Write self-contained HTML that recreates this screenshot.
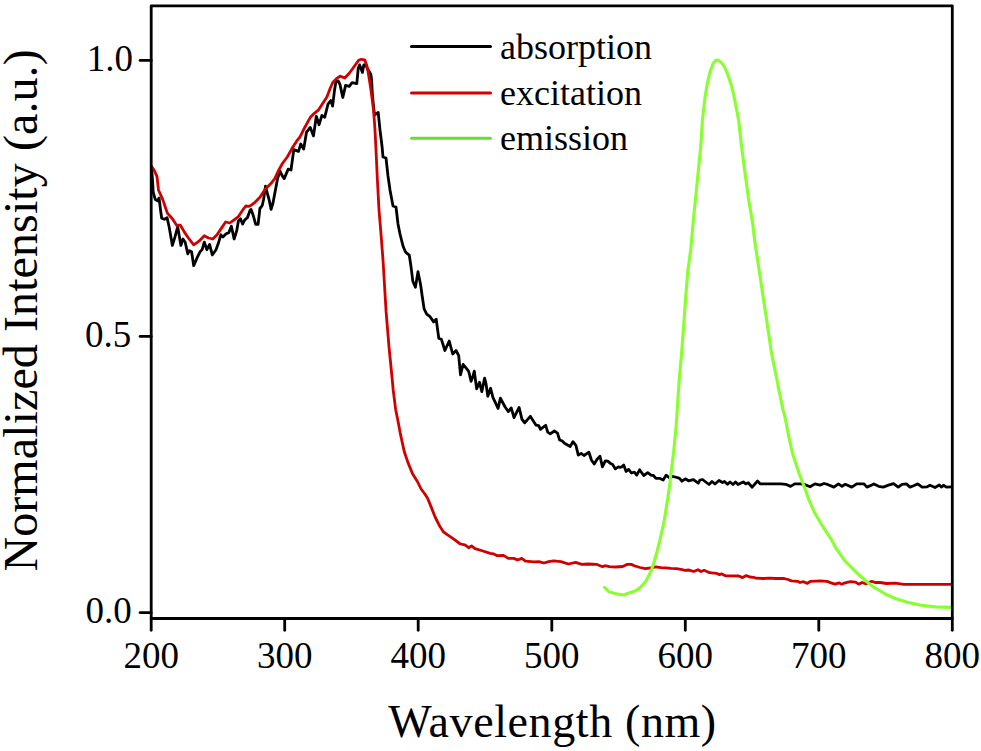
<!DOCTYPE html>
<html><head><meta charset="utf-8"><style>
html,body{margin:0;padding:0;background:#fff;}
svg{display:block;}
text{font-family:"Liberation Serif",serif;fill:#000;}
</style></head><body>
<svg width="981" height="751" viewBox="0 0 981 751">
<rect width="981" height="751" fill="#fff"/>
<g fill="none" stroke-linejoin="round" stroke-linecap="round">
<polyline points="151.5,168.0 152.5,180.0 153.2,192.1 155.3,199.6 157.5,200.7 159.1,198.0 160.7,211.3 161.7,218.2 164.4,219.3 167.1,217.7 169.2,227.3 172.4,245.4 175.0,236.9 177.7,226.8 180.9,245.4 183.0,239.0 185.2,242.2 187.8,253.9 189.4,250.7 191.6,251.8 193.7,265.7 196.9,258.2 200.0,251.8 202.1,249.7 204.3,242.2 206.9,249.7 209.6,244.4 212.3,255.0 216.0,249.7 218.7,242.2 220.8,234.8 222.9,236.9 226.1,233.7 228.8,232.6 231.4,226.2 234.1,239.0 236.8,230.5 238.4,220.9 240.5,218.8 242.6,224.1 244.8,219.8 247.4,217.7 250.1,210.2 251.1,209.4 253.4,216.0 255.7,224.3 258.1,224.3 259.9,208.5 262.2,205.7 263.6,199.2 265.5,186.1 267.4,193.6 269.2,200.1 271.1,209.4 273.0,202.9 275.8,188.0 277.6,178.6 280.0,171.2 282.3,175.9 284.2,178.6 288.2,169.1 291.0,170.0 293.8,149.6 298.5,151.4 300.8,144.0 303.7,149.0 306.5,132.2 310.3,127.5 313.5,135.9 316.3,116.3 319.1,124.7 321.9,115.4 324.7,117.3 328.0,104.2 330.8,100.5 332.6,106.1 334.5,90.3 335.9,81.9 338.2,80.9 340.0,84.5 342.8,97.5 345.6,85.4 349.3,86.3 352.1,82.6 356.8,83.6 358.2,68.6 359.6,64.9 361.0,68.6 362.4,72.4 363.8,64.9 365.6,64.9 368.0,69.6 370.8,74.2 371.7,80.8 372.2,92.0 373.1,102.2 374.5,115.2 376.8,113.4 378.2,112.4 380.0,130.0 382.0,146.0 383.0,157.0 386.0,158.0 388.0,176.0 390.0,190.0 393.0,206.0 396.0,207.0 398.0,224.0 400.0,234.0 403.0,246.0 405.0,251.0 406.0,252.6 409.3,255.2 411.1,267.3 412.8,281.2 415.4,287.3 418.0,271.7 420.6,284.7 422.3,296.8 424.1,308.9 426.7,314.1 430.1,316.7 433.6,321.9 436.2,319.3 438.8,338.4 441.4,339.3 444.9,350.5 449.2,341.0 452.7,354.0 456.1,350.5 458.7,355.7 460.5,374.8 463.1,364.4 467.4,369.6 468.7,371.5 471.1,381.3 472.9,376.2 474.3,371.1 475.3,379.0 476.7,388.8 479.5,382.2 481.8,391.6 484.6,378.1 486.0,383.6 487.8,396.2 490.6,388.3 493.0,397.6 498.1,408.4 500.4,398.1 505.1,407.0 508.4,411.6 511.2,407.9 514.0,417.7 519.1,407.4 521.9,419.1 524.7,422.8 530.3,416.3 535.9,425.1 538.7,425.6 540.5,429.3 542.9,427.3 545.7,425.3 547.7,432.2 550.2,433.9 554.3,431.0 557.5,433.1 559.6,440.0 562.0,440.8 564.5,443.2 570.2,446.5 573.0,441.6 575.9,445.3 578.3,455.1 581.2,453.4 584.0,455.5 588.9,452.2 591.4,460.0 594.2,464.0 597.1,459.2 600.0,456.3 602.4,466.9 605.3,460.8 607.7,461.2 610.1,463.2 612.6,464.5 615.4,468.9 618.3,466.9 620.0,467.3 621.6,466.9 623.7,464.9 626.1,471.4 628.6,469.4 631.4,473.0 634.3,472.2 636.7,475.1 639.6,469.8 643.7,475.5 647.7,472.6 651.0,475.1 653.4,475.5 655.9,478.4 660.0,478.4 663.2,480.0 666.1,475.1 668.9,477.5 672.2,476.3 677.1,477.5 679.5,478.4 682.0,481.2 685.3,478.8 688.5,480.8 693.4,479.6 698.3,483.2 700.0,480.0 702.5,479.5 709.0,484.5 712.0,481.5 715.0,484.0 719.0,480.5 722.5,482.5 724.5,481.5 727.5,484.3 730.0,482.0 733.0,484.5 735.5,482.0 738.0,484.5 740.0,483.5 743.3,481.9 745.7,483.9 748.2,482.7 752.2,487.2 757.5,481.0 760.4,483.9 764.5,483.9 772.6,483.9 780.8,483.9 785.7,484.3 790.6,486.4 794.6,483.9 800.4,483.9 805.3,484.7 810.1,486.8 815.0,483.9 820.0,485.1 824.1,483.5 828.2,484.7 833.9,487.1 838.4,483.9 842.0,486.3 845.3,484.3 851.8,487.1 856.7,483.9 864.0,483.9 866.9,487.1 869.8,485.9 873.8,483.9 878.7,486.3 883.2,487.1 888.5,485.1 893.6,483.6 898.2,487.1 902.1,484.3 906.4,483.9 910.0,487.1 913.6,485.7 917.8,483.9 922.1,487.1 927.1,486.8 930.0,485.3 935.0,487.5 939.3,485.0 941.4,487.1 943.5,485.3 946.4,487.1 951.4,486.8" stroke="#000" stroke-width="2.8"/>
<polyline points="151.4,166.2 154.2,170.2 157.0,176.6 158.5,190.0 162.8,199.6 166.0,209.2 167.6,213.4 172.4,218.8 176.6,225.2 180.4,225.2 184.1,231.6 188.4,238.0 193.7,244.9 199.0,241.2 204.3,235.8 208.5,238.0 212.8,239.0 217.0,234.8 221.3,228.4 225.6,222.0 229.8,223.0 234.1,219.8 238.4,216.6 242.6,210.2 245.8,206.0 248.5,206.3 250.6,205.7 254.3,202.9 259.9,197.3 265.5,188.9 271.1,183.3 274.8,178.6 278.6,170.3 282.3,163.7 285.0,160.0 287.3,157.0 291.9,148.6 296.6,141.2 300.0,136.8 304.7,127.5 310.3,117.3 314.0,113.6 318.6,109.8 323.3,102.4 327.0,96.8 329.8,89.3 332.6,82.8 336.2,78.9 340.0,76.1 344.7,78.0 349.3,73.3 354.0,66.8 358.6,60.3 361.4,59.3 364.7,59.8 366.6,64.9 368.0,71.4 369.4,79.8 370.8,89.1 372.2,99.4 373.6,110.6 375.0,130.0 376.0,150.0 377.4,180.0 379.0,210.0 381.0,234.0 383.0,260.0 386.1,311.7 389.0,346.8 391.9,376.0 393.2,390.0 395.6,409.2 397.8,420.0 400.6,434.9 404.3,451.7 408.1,462.9 412.7,474.1 417.4,481.5 421.1,489.0 424.5,493.5 427.6,498.3 431.4,507.6 435.1,517.0 439.8,526.3 443.5,531.9 447.2,534.7 452.8,538.4 456.5,541.2 460.3,544.0 464.9,544.9 468.7,547.7 471.5,545.9 475.0,548.7 483.0,551.0 490.2,553.4 493.7,553.9 497.3,555.7 503.5,555.4 508.3,558.4 513.9,558.4 517.5,560.0 521.8,558.4 525.5,561.2 534.0,561.8 538.9,561.6 543.8,563.0 548.7,561.6 553.6,560.8 561.0,561.6 568.3,564.0 575.6,562.4 581.7,564.3 587.9,564.0 596.4,564.3 602.5,566.7 605.0,565.7 609.3,566.7 615.8,567.0 622.7,566.5 627.0,564.4 631.3,564.4 635.0,566.0 640.0,567.5 645.4,568.6 650.0,568.0 655.8,566.9 661.0,567.6 666.1,567.8 671.0,568.3 676.5,568.6 681.0,569.4 685.0,570.3 688.4,570.0 690.0,570.3 693.7,571.5 698.0,569.7 701.0,571.5 704.1,570.3 709.6,572.7 716.3,573.3 719.4,574.6 721.8,573.9 725.5,575.8 732.8,575.8 738.9,576.0 742.6,577.6 746.3,575.6 749.9,577.0 753.6,577.3 756.1,578.2 763.4,578.5 769.5,578.2 775.6,578.5 784.2,578.5 787.9,579.5 791.5,580.9 797.6,581.3 800.0,582.5 803.3,581.7 807.3,583.4 810.6,581.3 820.4,580.9 826.9,581.3 831.0,582.9 835.1,584.2 839.2,582.9 841.6,584.2 844.9,582.9 850.6,581.7 855.5,582.1 858.7,584.2 862.0,582.5 866.1,583.8 871.8,581.3 875.0,582.5 880.0,582.5 886.6,583.5 895.2,583.2 903.9,584.4 912.6,584.4 921.2,584.4 929.9,584.4 938.5,584.4 951.5,584.4" stroke="#d00000" stroke-width="2.8"/>
<polyline points="604.5,587.3 608.8,591.6 614.0,593.3 618.4,594.2 623.5,595.0 629.6,592.8 635.0,591.1 640.2,587.6 646.2,580.7 651.4,570.3 655.8,556.5 660.1,539.2 664.0,521.9 666.8,504.6 669.4,487.3 671.4,470.0 673.6,452.0 676.0,428.0 677.6,404.0 679.2,380.0 681.3,357.0 683.4,329.4 685.5,299.6 687.7,271.9 690.7,250.0 693.0,223.9 695.6,197.9 698.2,172.0 700.8,146.0 702.4,120.0 704.9,98.0 707.6,82.0 710.2,71.3 712.9,63.9 715.5,60.5 718.2,60.1 721.0,62.5 724.1,66.0 727.3,73.4 731.0,84.1 733.7,94.8 735.8,105.4 738.6,120.0 741.5,146.0 744.9,172.0 748.4,197.9 752.7,223.9 754.6,240.0 758.0,262.6 761.4,285.2 764.8,307.9 768.2,330.5 771.5,353.1 776.1,375.7 780.6,398.4 783.0,409.9 784.3,414.0 787.1,428.0 789.9,441.9 792.7,454.0 796.4,465.2 800.2,476.4 803.9,485.7 808.5,498.8 814.1,511.8 820.6,523.0 825.3,530.4 830.9,538.8 836.4,548.9 845.0,561.0 849.0,565.0 857.1,573.2 865.3,580.5 873.4,587.0 880.0,590.7 886.6,594.8 897.0,599.1 907.4,602.2 921.2,605.2 935.1,606.9 951.5,607.4" stroke="#87ff30" stroke-width="3.1"/>
</g>
<g stroke="#000" stroke-width="2.8" fill="none" stroke-linecap="round" stroke-linejoin="round">
<rect x="151.2" y="5.9" width="801.1" height="612.6"/>
<line x1="151.2" y1="618.5" x2="151.2" y2="630.3"/><line x1="284.7" y1="618.5" x2="284.7" y2="630.3"/><line x1="418.2" y1="618.5" x2="418.2" y2="630.3"/><line x1="551.8" y1="618.5" x2="551.8" y2="630.3"/><line x1="685.3" y1="618.5" x2="685.3" y2="630.3"/><line x1="818.8" y1="618.5" x2="818.8" y2="630.3"/><line x1="952.3" y1="618.5" x2="952.3" y2="630.3"/>
<line x1="140.1" y1="60.4" x2="151.2" y2="60.4"/><line x1="140.1" y1="336.4" x2="151.2" y2="336.4"/><line x1="140.1" y1="612.7" x2="151.2" y2="612.7"/>
</g>
<g font-size="37"><text x="151.2" y="667.5" text-anchor="middle">200</text><text x="284.7" y="667.5" text-anchor="middle">300</text><text x="418.2" y="667.5" text-anchor="middle">400</text><text x="551.8" y="667.5" text-anchor="middle">500</text><text x="685.3" y="667.5" text-anchor="middle">600</text><text x="818.8" y="667.5" text-anchor="middle">700</text><text x="952.3" y="667.5" text-anchor="middle">800</text><text x="133" y="71.0" text-anchor="end">1.0</text><text x="131.3" y="347.0" text-anchor="end">0.5</text><text x="131.8" y="623.3" text-anchor="end">0.0</text></g>
<g stroke-width="3" fill="none" stroke-linecap="round">
<line x1="411.5" y1="46.6" x2="490.5" y2="46.6" stroke="#000"/>
<line x1="411.5" y1="93.1" x2="490.5" y2="93.1" stroke="#d00000"/>
<line x1="411.5" y1="138.2" x2="490.5" y2="138.2" stroke="#6ddc32"/>
</g>
<g font-size="36">
<text x="500" y="58.6">absorption</text>
<text x="500" y="104.5">excitation</text>
<text x="500" y="150">emission</text>
</g>
<text x="388.2" y="737.3" font-size="46" textLength="328" lengthAdjust="spacing">Wavelength (nm)</text>
<text transform="translate(37.3,571.6) rotate(-90)" font-size="48" textLength="522.3" lengthAdjust="spacing">Normalized Intensity (a.u.)</text>
</svg>
</body></html>
